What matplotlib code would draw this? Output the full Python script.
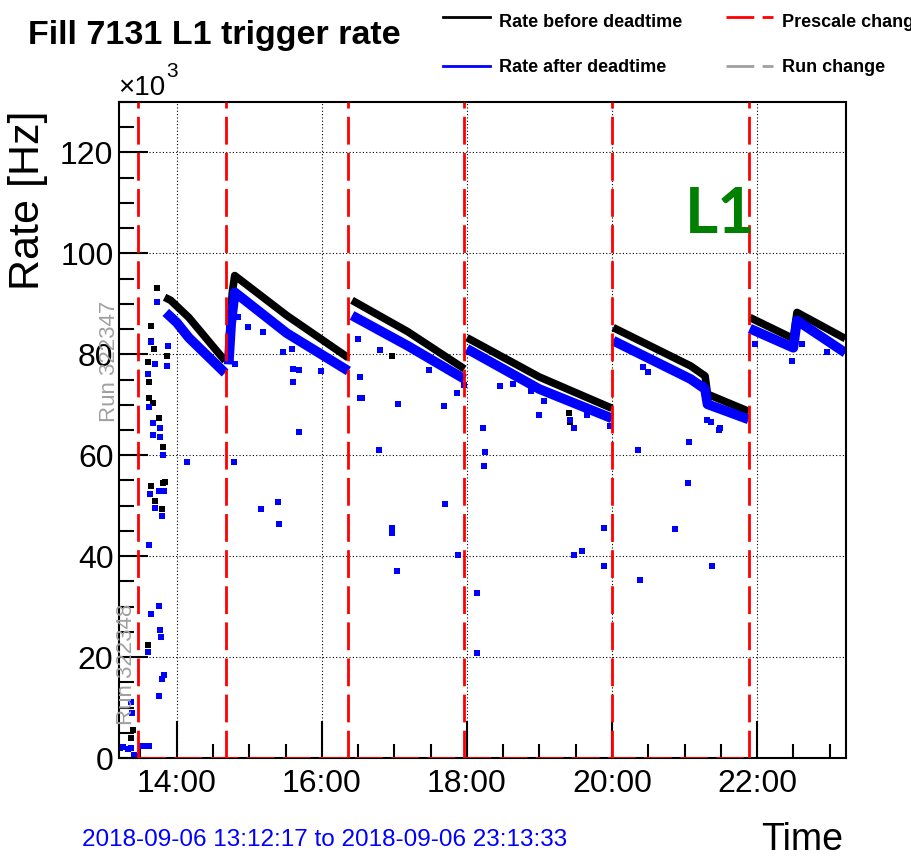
import matplotlib
matplotlib.use("Agg")
import matplotlib.pyplot as plt
import matplotlib.dates as mdates
from matplotlib.lines import Line2D
import pandas as pd

plt.rcParams['font.family'] = ['Liberation Sans', 'DejaVu Sans']

DAY = "2018-09-06 "
t_start, t_end = "13:12:17", "23:13:33"

# prescale changes (red dashed)
prescale_times = ["13:28", "14:41", "16:22", "17:58", "20:00", "21:53"]

# main bands, one list per fill segment (rate in kHz)
black_seg_t = [["13:50", "13:55", "14:10", "14:40"],
               ["14:43", "14:44", "14:46", "14:48", "15:31", "16:22"],
               ["16:25", "17:11", "17:58"],
               ["18:00", "19:00", "20:00"],
               ["20:01", "21:05", "21:17", "21:19", "21:53"],
               ["21:54", "22:30", "22:33", "23:13"]]
black_seg_v = [[91.3, 90.7, 87.3, 78.7],
               [79.7, 85.3, 92.3, 95.6, 87.7, 79.3],
               [90.7, 84.5, 77.1],
               [83.3, 75.5, 69.3],
               [85.3, 77.7, 75.7, 72.1, 68.7],
               [87.3, 83.1, 88.3, 83.1]]
blue_seg_t = [["13:51", "14:00", "14:10", "14:40"],
              ["14:43", "14:45", "14:48", "15:31", "16:22"],
              ["16:25", "17:11", "17:58"],
              ["18:00", "19:00", "20:00"],
              ["20:01", "21:05", "21:17", "21:19", "21:53"],
              ["21:54", "22:30", "22:33", "23:13"]]
blue_seg_v = [[88.3, 86.3, 83.3, 76.3],
              [78.0, 86.0, 92.3, 84.2, 76.7],
              [87.7, 81.7, 75.1],
              [81.1, 73.1, 67.3],
              [82.7, 75.1, 73.1, 70.1, 67.1],
              [85.1, 81.3, 86.7, 80.3]]

# scattered single measurements
black_pts_t = ["13:24", "13:22", "13:36", "13:37", "13:37", "13:40", "13:45", "13:49",
               "13:39", "13:39", "13:44", "13:41", "13:49", "13:39", "13:42", "13:48",
               "13:36", "13:52", "13:50", "15:36", "16:58", "19:24:30", "19:25"]
black_pts_v = [5.6, 4.0, 78.4, 74.6, 71.4, 70.4, 67.4, 61.6,
               82.6, 85.6, 93.2, 81.0, 54.4, 54.0, 51.0, 49.4,
               22.4, 79.6, 54.6, 77.0, 79.6, 68.4, 66.5]
blue_pts_t = ["13:13", "13:16", "13:20", "13:22", "13:25", "13:27", "13:31", "13:35", "13:37",
              "13:23", "13:22",
              "13:36", "13:37", "13:40", "13:40", "13:46", "13:46", "13:49", "13:39", "13:42",
              "13:44", "13:53", "13:52", "13:38", "13:45", "13:49:30", "13:42", "13:48", "13:37",
              "13:39", "13:45", "13:46", "13:47", "13:36", "13:48", "13:49:30", "13:45", "14:08:30",
              "14:47", "14:51", "14:59", "15:11", "15:28", "15:35", "15:36", "15:41", "15:41",
              "15:36", "15:10", "15:24", "15:25", "15:59", "14:48",
              "16:30", "16:32", "16:33", "16:48", "17:03", "16:32", "16:47", "16:58", "16:58",
              "17:02", "17:29", "17:41", "17:42", "17:52", "17:53", "17:58",
              "18:08", "18:08", "18:13", "18:14", "18:15", "18:27", "18:38", "18:53", "19:00",
              "19:04", "19:25", "19:29", "19:29", "19:35", "19:39", "19:53", "19:53", "19:58",
              "20:21:30", "20:23", "20:26", "20:30", "20:52", "21:03", "21:04", "21:15", "21:19",
              "21:22", "21:23", "21:28:30", "21:29",
              "21:58", "22:29", "22:37", "22:58"]
blue_pts_v = [2.0, 2.2, 1.8, 2.0, 0.6, 0.4, 2.4, 2.4, 2.4,
              9.0, 11.0,
              76.0, 69.6, 66.4, 64.0, 65.4, 63.6, 60.0, 82.4, 78.0,
              90.4, 81.6, 77.6, 52.4, 53.0, 53.0, 49.6, 48.0, 42.2,
              28.6, 30.2, 25.4, 24.0, 21.0, 15.6, 16.4, 12.2, 58.6,
              58.6, 87.4, 85.4, 84.4, 80.4, 81.0, 77.0, 76.8, 64.6,
              74.6, 49.4, 50.8, 46.4, 76.6, 78.0,
              83.0, 75.6, 71.4, 80.8, 70.2, 71.4, 61.0, 45.6, 44.6,
              37.0, 76.8, 69.8, 50.4, 72.4, 40.2, 74.0,
              32.6, 20.8, 65.4, 57.8, 60.6, 73.8, 74.2, 72.8, 68.0,
              70.8, 67.0, 65.4, 40.2, 41.0, 68.0, 45.6, 38.0, 65.8,
              61.0, 35.2, 77.4, 76.4, 45.4, 54.4, 62.6, 74.0, 67.0,
              66.6, 38.0, 65.0, 65.4,
              82.0, 78.6, 82.0, 80.4]

run_labels = ["Run 322347", "Run 322348"]


def ts(lst):
    return pd.to_datetime([DAY + s for s in lst], format='mixed')


fig = plt.figure(figsize=(9.12, 8.59), dpi=100)
ax = fig.add_axes([119 / 912, 101 / 859, 727 / 912, 656 / 859])

# prescale change markers
for t in ts(prescale_times):
    ax.axvline(t, color='red', lw=2, linestyle=(0, (10, 3)), zorder=4)
ax.hlines(0, ts(prescale_times)[0], ts(prescale_times)[-1], color='red', lw=2,
          linestyle=(0, (10, 3)), zorder=4)

# rate bands
for tt, vv in zip(black_seg_t, black_seg_v):
    ax.plot(ts(tt), vv, color='black', lw=5.5, solid_capstyle='butt', zorder=2)
for tt, vv in zip(blue_seg_t, blue_seg_v):
    ax.plot(ts(tt), vv, color='blue', lw=7, solid_capstyle='butt', zorder=2.2)
ax.plot(ts(black_pts_t), black_pts_v, 's', color='black', ms=3.8, mew=0, zorder=2.1)
ax.plot(ts(blue_pts_t), blue_pts_v, 's', color='blue', ms=3.8, mew=0, zorder=2.3)

ax.set_xlim(ts([t_start])[0], ts([t_end])[0])
ax.set_ylim(0, 130)

ax.xaxis.set_major_locator(mdates.HourLocator(byhour=range(0, 24, 2)))
ax.xaxis.set_minor_locator(mdates.MinuteLocator(byminute=[0, 30]))
ax.xaxis.set_major_formatter(mdates.DateFormatter('%H:%M'))
ax.set_yticks(range(0, 121, 20))
ax.set_yticks(range(0, 131, 5), minor=True)

ax.grid(which='major', color='black', linestyle=(0, (1, 2)), linewidth=0.8)
ax.tick_params(axis='both', which='both', direction='in', width=1.5,
               top=False, right=False, labelsize=23)
ax.tick_params(axis='x', which='major', length=27, pad=8)
ax.tick_params(axis='x', which='minor', length=10)
ax.tick_params(axis='y', which='major', length=21, pad=4)
ax.tick_params(axis='y', which='minor', length=11)
for s in ax.spines.values():
    s.set_linewidth(1.5)

# run change labels
ax.text(-0.0124, 0.604, run_labels[0], rotation=90, color='#a0a0a0', fontsize=16,
        ha='center', va='center', transform=ax.transAxes, clip_on=False)
ax.text(0.011, 0.142, run_labels[1], rotation=90, color='#a0a0a0', fontsize=16,
        ha='center', va='center', transform=ax.transAxes, clip_on=False)

# figure texts
fig.text(28 / 912, 1 - 200 / 859, 'Rate [Hz]', fontsize=31, rotation=90,
         ha='center', va='center')
fig.text(28 / 912, 1 - 44 / 859, 'Fill 7131 L1 trigger rate', fontsize=24.5,
         fontweight='bold', va='baseline', ha='left')
fig.text(118 / 912, 1 - 95 / 859, '\u00d710', fontsize=20, va='baseline', ha='left')
fig.text(166 / 912, 1 - 77 / 859, '3', fontsize=15, va='baseline', ha='left')
fig.text(843 / 912, 1 - 850 / 859, 'Time', fontsize=27, va='baseline', ha='right')
fig.text(82 / 912, 1 - 846 / 859, '2018-09-06 13:12:17 to 2018-09-06 23:13:33',
         fontsize=17.5, color='blue', va='baseline', ha='left')
fig.text(685 / 912, 1 - 233 / 859, 'L1', fontsize=46, fontweight='bold',
         color='#008000', family=['Lato', 'DejaVu Sans'], va='baseline', ha='left')

# legend drawn by hand to match layout
leg = [('Rate before deadtime', 'black', '-', 443, 17, 499, 27),
       ('Rate after deadtime', 'blue', '-', 443, 66, 499, 72),
       ('Prescale change', 'red', (0, (10, 3)), 726, 17, 782, 27),
       ('Run change', '#a0a0a0', (0, (10, 3)), 726, 66, 782, 72)]
for label, col, ls, x0, y0, xt, yt in leg:
    fig.add_artist(Line2D([x0 / 912, (x0 + 47) / 912], [1 - y0 / 859, 1 - y0 / 859],
                          color=col, lw=2, linestyle=ls, transform=fig.transFigure))
    fig.text(xt / 912, 1 - yt / 859, label, fontsize=13, fontweight='bold',
             va='baseline', ha='left')

fig.savefig('out.png', dpi=100)
